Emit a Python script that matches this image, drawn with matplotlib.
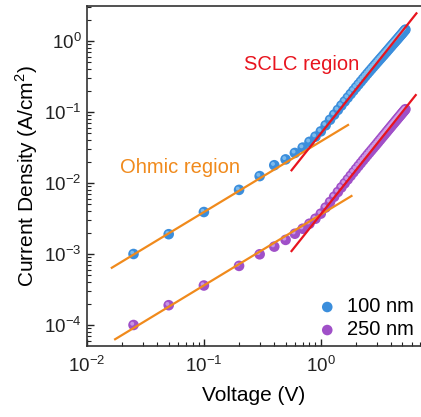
import matplotlib
matplotlib.use("Agg")
import matplotlib.pyplot as plt
import matplotlib.transforms as mtransforms

plt.rcParams['font.family'] = ['Liberation Sans', 'DejaVu Sans']
plt.rcParams['mathtext.fontset'] = 'custom'
plt.rcParams['mathtext.rm'] = 'Liberation Sans'

# Voltage points (V)
voltage = [0.025, 0.05, 0.1, 0.2, 0.3, 0.4, 0.5, 0.6, 0.7, 0.8, 0.9,
           1.0, 1.1, 1.2, 1.3, 1.4, 1.5, 1.6, 1.7, 1.8, 1.9,
           2.0, 2.1, 2.2, 2.3, 2.4, 2.5, 2.6, 2.7, 2.8, 2.9,
           3.0, 3.1, 3.2, 3.3, 3.4, 3.5, 3.6, 3.7, 3.8, 3.9,
           4.0, 4.1, 4.2, 4.3, 4.4, 4.5, 4.6, 4.7, 4.8, 4.9,
           5.0, 5.1, 5.2, 5.3]

# Current density (A/cm2), 100 nm film
j_100 = [1.0e-3, 1.9e-3, 3.9e-3, 8.0e-3, 1.25e-2, 1.78e-2, 2.15e-2, 2.65e-2, 3.15e-2, 3.8e-2, 4.5e-2,
         0.0533, 0.0649, 0.0777, 0.0917, 0.1069, 0.1233, 0.1407, 0.1592, 0.1789, 0.1997,
         0.2217, 0.2443, 0.2679, 0.2927, 0.3185, 0.3452, 0.3722, 0.4001, 0.4289, 0.4584,
         0.4889, 0.5201, 0.5522, 0.5849, 0.6185, 0.6527, 0.6890, 0.7262, 0.7644, 0.8033,
         0.8429, 0.8834, 0.9247, 0.9668, 1.0096, 1.0532, 1.0988, 1.1451, 1.1922, 1.2402,
         1.2890, 1.3415, 1.3935, 1.4464]

# Current density (A/cm2), 250 nm film
j_250 = [1.0e-4, 1.9e-4, 3.6e-4, 6.8e-4, 9.9e-4, 1.27e-3, 1.58e-3, 1.93e-3, 2.27e-3, 2.67e-3, 3.14e-3,
         0.00370, 0.00451, 0.00540, 0.00640, 0.00747, 0.00865, 0.00989, 0.01121, 0.01262, 0.01412,
         0.01570, 0.01733, 0.01905, 0.02085, 0.02272, 0.02468, 0.02666, 0.02871, 0.03083, 0.03302,
         0.03528, 0.03768, 0.04017, 0.04272, 0.04535, 0.04806, 0.05084, 0.05370, 0.05664, 0.05965,
         0.06272, 0.06587, 0.06910, 0.07240, 0.07577, 0.07922, 0.08274, 0.08633, 0.08998, 0.09371,
         0.09751, 0.10138, 0.10532, 0.10944]

# Fit line end points
ohmic_100_x = [0.0163, 1.71]
ohmic_100_y = [6.4e-4, 0.0656]
ohmic_250_x = [0.0174, 1.83]
ohmic_250_y = [6.3e-5, 6.56e-3]
sclc_100_x = [0.562, 6.58]
sclc_100_y = [0.0151, 2.45]
sclc_250_x = [0.562, 6.49]
sclc_250_y = [1.10e-3, 0.173]

blue = '#3b8edc'
blue_hi = '#8cc6f2'
purple = '#a050c8'
purple_hi = '#d3a6ec'
orange = '#f08a1c'
red = '#e8141e'

fig = plt.figure(figsize=(4.21, 4.17), dpi=100)
ax = fig.add_axes([87 / 421, 71 / 417, 334 / 421, 340 / 417])
ax.set_xscale('log')
ax.set_yscale('log')

hi = mtransforms.offset_copy(ax.transData, fig=fig, x=-1.3, y=1.3, units='dots')

ax.scatter(voltage, j_100, s=58, color=blue, edgecolors='none', zorder=2, label='100 nm')
ax.scatter(voltage, j_100, s=8, color=blue_hi, edgecolors='none', zorder=2.1, transform=hi, alpha=0.8)
ax.scatter(voltage, j_250, s=58, color=purple, edgecolors='none', zorder=2, label='250 nm')
ax.scatter(voltage, j_250, s=8, color=purple_hi, edgecolors='none', zorder=2.1, transform=hi, alpha=0.8)

ax.plot(ohmic_100_x, ohmic_100_y, color=orange, lw=1.6, zorder=3)
ax.plot(ohmic_250_x, ohmic_250_y, color=orange, lw=1.6, zorder=3)
ax.plot(sclc_100_x, sclc_100_y, color=red, lw=1.6, zorder=3)
ax.plot(sclc_250_x, sclc_250_y, color=red, lw=1.6, zorder=3)

ax.text(0.642, 0.812, 'SCLC region', color=red, fontsize=14.5,
        ha='center', va='baseline', transform=ax.transAxes)
ax.text(0.278, 0.508, 'Ohmic region', color=orange, fontsize=14.5,
        ha='center', va='baseline', transform=ax.transAxes)

ax.set_xlim(0.01, 7.2)
ax.set_ylim(5.06e-5, 3.11)
ax.set_xticks([1e-2, 1e-1, 1e0])

ax.set_xlabel('Voltage (V)', fontsize=15, labelpad=7)
ax.set_ylabel('Current Density (A/cm$^2$)', fontsize=15, labelpad=3)

ax.tick_params(which='both', direction='in', top=False, right=False, labelsize=13.5, colors='#222222')
ax.tick_params(which='major', length=5, width=1)
ax.tick_params(which='minor', length=3, width=0.8)
ax.tick_params(axis='x', pad=7)
ax.tick_params(axis='y', pad=4)
for side in ['left', 'bottom', 'top']:
    ax.spines[side].set_linewidth(1.2)
    ax.spines[side].set_color('#333333')
ax.spines['right'].set_visible(False)

leg = ax.legend(loc='lower right', bbox_to_anchor=(1.01, -0.01), frameon=False, fontsize=14.5,
                handletextpad=0.5, borderaxespad=0.1, labelspacing=0.2, handlelength=1.0,
                scatterpoints=1)

fig.savefig('out.png', dpi=100)
